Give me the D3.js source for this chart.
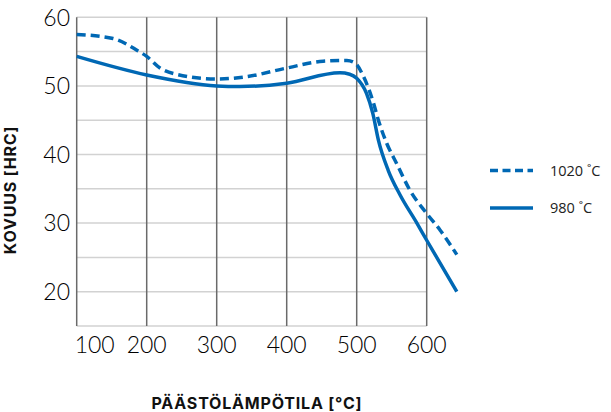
<!DOCTYPE html>
<html><head><meta charset="utf-8">
<script src="https://cdn.jsdelivr.net/npm/d3@7"></script>
<style>body{margin:0;background:#fff}svg{display:block}</style>
</head><body>
<script>
const xTicks = [100, 200, 300, 400, 500, 600];
const yTicks = [20, 30, 40, 50, 60];
const yGrid = [20, 25, 30, 35, 40, 45, 50, 55, 60];
const seriesNames = ["1020 ˚C", "980 ˚C"];
const temps1020 = [100, 152, 186, 200, 219, 238, 300, 340, 400, 452, 486, 498, 510, 524, 531, 543, 557, 576, 600, 619, 643];
const vals1020  = [57.5, 56.9, 55.2, 54.3, 52.6, 51.8, 51.0, 51.3, 52.6, 53.6, 53.7, 53.3, 51.3, 47.5, 45.0, 41.6, 38.7, 34.8, 31.4, 29.0, 25.4];
const temps980 = [100, 200, 300, 333, 400, 476, 490, 500, 514, 523, 531, 545, 562, 586, 600, 643];
const vals980  = [54.3, 51.6, 50.0, 49.9, 50.4, 51.9, 51.7, 51.1, 48.9, 46.0, 42.1, 37.7, 34.1, 30.0, 27.5, 20.0];

const W = 611, H = 412;
const svg = d3.select("body").append("svg").attr("width", W).attr("height", H);
const x = d3.scaleLinear().domain([100, 600]).range([76.7, 426.7]);
const y = d3.scaleLinear().domain([15, 60]).range([326, 17.3]);
const blue = "#0068b4";

svg.append("g").selectAll("line").data(yGrid).join("line")
  .attr("x1", x(100)).attr("x2", x(600))
  .attr("y1", d => y(d)).attr("y2", d => y(d))
  .attr("stroke", "#d2d2d2").attr("stroke-width", 1.5);
svg.append("line").attr("x1", x(100)).attr("x2", x(600)).attr("y1", y(15)).attr("y2", y(15))
  .attr("stroke", "#d2d2d2").attr("stroke-width", 1.5);
svg.append("g").selectAll("line").data(xTicks).join("line")
  .attr("x1", d => x(d)).attr("x2", d => x(d))
  .attr("y1", y(60)).attr("y2", y(15))
  .attr("stroke", "#6a6a6a").attr("stroke-width", 1.5);

svg.append("g").selectAll("text").data(yTicks).join("text")
  .attr("x", 70).attr("y", d => y(d)).attr("dy", "0.36em")
  .attr("text-anchor", "end")
  .attr("font-family", "Lato").attr("font-weight", 300).attr("font-size", 23).attr("fill", "#000")
  .text(d => d);
svg.append("g").selectAll("text").data(xTicks).join("text")
  .attr("x", (d, i) => i === 0 ? x(d) - 2 : x(d)).attr("y", 353)
  .attr("text-anchor", (d, i) => i === 0 ? "start" : "middle")
  .attr("font-family", "Lato").attr("font-weight", 300).attr("font-size", 23).attr("fill", "#000")
  .text(d => d);

svg.append("text").attr("transform", "translate(15.5,190) rotate(-90)")
  .attr("text-anchor", "middle").attr("font-family", "Inter").attr("font-weight", 700)
  .attr("font-size", 16).attr("letter-spacing", 0.8).attr("fill", "#111").text("KOVUUS [HRC]");
svg.append("text").attr("x", 257).attr("y", 409)
  .attr("text-anchor", "middle").attr("font-family", "Inter").attr("font-weight", 700)
  .attr("font-size", 16).attr("letter-spacing", 0.8).attr("fill", "#111").text("PÄÄSTÖLÄMPÖTILA [°C]");

const line = d3.line().x(d => x(d[0])).y(d => y(d[1])).curve(d3.curveMonotoneX);
svg.append("path").datum(d3.zip(temps1020, vals1020)).attr("d", line)
  .attr("fill", "none").attr("stroke", blue).attr("stroke-width", 3.5).attr("stroke-dasharray", "9,5");
svg.append("path").datum(d3.zip(temps980, vals980)).attr("d", line)
  .attr("fill", "none").attr("stroke", blue).attr("stroke-width", 3.5);

const leg = svg.append("g");
const ly = [170.5, 208];
seriesNames.forEach((n, i) => {
  leg.append("line").attr("x1", 490).attr("x2", 533).attr("y1", ly[i]).attr("y2", ly[i])
    .attr("stroke", blue).attr("stroke-width", 3.5)
    .attr("stroke-dasharray", i === 0 ? "8,4.5" : null);
  leg.append("text").attr("x", 550).attr("y", ly[i]).attr("dy", "0.35em")
    .attr("font-family", "Open Sans").attr("font-size", 14.5).attr("fill", "#222").text(n);
});
</script>
</body></html>
